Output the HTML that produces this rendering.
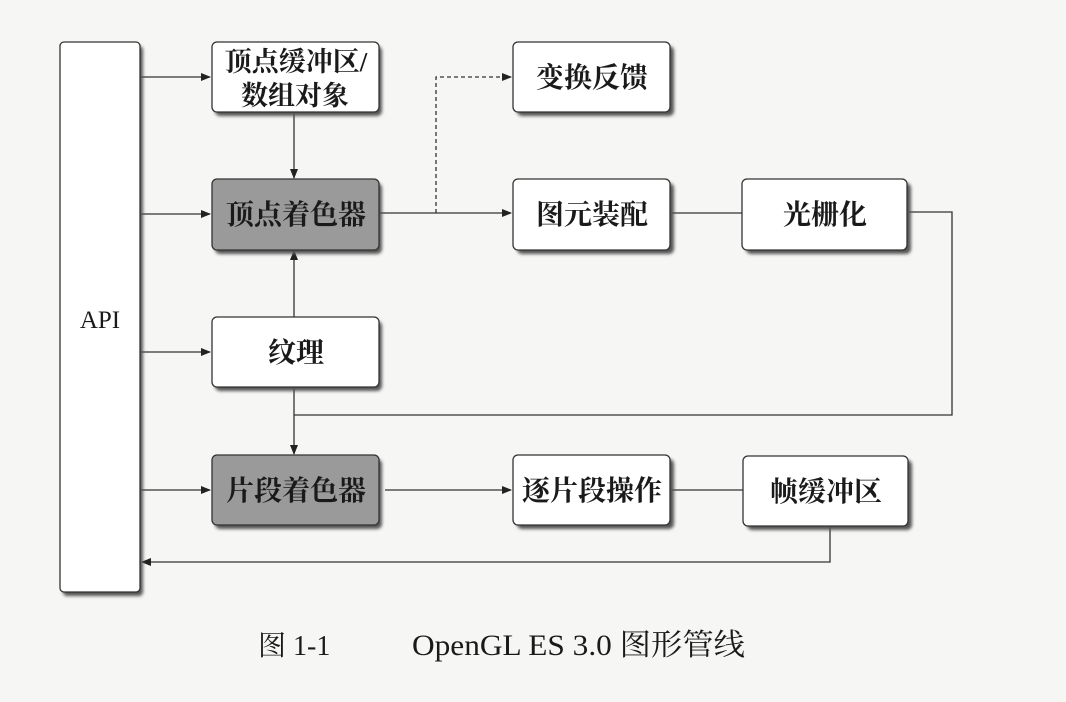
<!DOCTYPE html>
<html><head><meta charset="utf-8"><style>
html,body{margin:0;padding:0;background:#f6f6f4;}
svg{display:block}
text{font-family:"Liberation Serif","Noto Serif CJK SC","Noto Sans CJK SC",serif;fill:#1a1a1a;}
</style></head><body>
<svg width="1066" height="702" viewBox="0 0 1066 702" xmlns="http://www.w3.org/2000/svg">
<defs>
<marker id="a" markerWidth="10" markerHeight="8" refX="9" refY="4" orient="auto" markerUnits="userSpaceOnUse">
<path d="M0,0 L10,4 L0,8 z" fill="#222"/></marker>
<filter id="s" x="-10%" y="-10%" width="130%" height="130%"><feGaussianBlur stdDeviation="1.5"/></filter>
</defs>
<g stroke="#333" stroke-width="1.3" fill="none">
<line x1="140" y1="77" x2="210" y2="77" marker-end="url(#a)"/>
<line x1="140" y1="214" x2="210" y2="214" marker-end="url(#a)"/>
<line x1="140" y1="352" x2="210" y2="352" marker-end="url(#a)"/>
<line x1="140" y1="490" x2="210" y2="490" marker-end="url(#a)"/>
<line x1="294" y1="112" x2="294" y2="178" marker-end="url(#a)"/>
<line x1="294" y1="317" x2="294" y2="251" marker-end="url(#a)"/>
<line x1="294" y1="387" x2="294" y2="454" marker-end="url(#a)"/>
<line x1="377" y1="213" x2="511" y2="213" marker-end="url(#a)"/>
<path d="M436,213 V77 H511" stroke-dasharray="4,3" marker-end="url(#a)"/>
<line x1="670" y1="213" x2="742" y2="213"/>
<path d="M907,212 H952 V415 H294"/>
<line x1="385" y1="490" x2="511" y2="490" marker-end="url(#a)"/>
<line x1="670" y1="490" x2="743" y2="490"/>
<path d="M830,526 V562 H142" marker-end="url(#a)"/>
</g>
<g>
<rect x="63" y="46" width="80" height="550" rx="4" fill="#555" filter="url(#s)"/>
<rect x="60" y="42" width="80" height="550" rx="4" fill="#fff" stroke="#333" stroke-width="1.3"/>
<g fill="#555" filter="url(#s)">
<rect x="215" y="46" width="167" height="70" rx="5"/>
<rect x="215" y="183" width="167" height="71" rx="5"/>
<rect x="215" y="321" width="167" height="70" rx="5"/>
<rect x="215" y="459" width="167" height="70" rx="5"/>
<rect x="517" y="46" width="157" height="70" rx="5"/>
<rect x="517" y="183" width="157" height="71" rx="5"/>
<rect x="746" y="183" width="165" height="71" rx="5"/>
<rect x="517" y="459" width="157" height="70" rx="5"/>
<rect x="747" y="460" width="165" height="70" rx="5"/>
</g>
<g stroke="#333" stroke-width="1.3" fill="#fff">
<rect x="212" y="42" width="167" height="70" rx="5"/>
<rect x="212" y="179" width="167" height="71" rx="5" fill="#9a9a9a"/>
<rect x="212" y="317" width="167" height="70" rx="5"/>
<rect x="212" y="455" width="167" height="70" rx="5" fill="#9a9a9a"/>
<rect x="513" y="42" width="157" height="70" rx="5"/>
<rect x="513" y="179" width="157" height="71" rx="5"/>
<rect x="742" y="179" width="165" height="71" rx="5"/>
<rect x="513" y="455" width="157" height="70" rx="5"/>
<rect x="743" y="456" width="165" height="70" rx="5"/>
</g>
</g>
<g font-size="28" text-anchor="middle" font-weight="bold">
<text x="100" y="328" font-weight="normal" font-size="25">API</text>
<text x="296" y="71" font-size="27">顶点缓冲区/</text>
<text x="295" y="105" font-size="27">数组对象</text>
<text x="296" y="224">顶点着色器</text>
<text x="296" y="362">纹理</text>
<text x="296" y="500">片段着色器</text>
<text x="592" y="87">变换反馈</text>
<text x="592" y="224">图元装配</text>
<text x="825" y="224">光栅化</text>
<text x="592" y="500">逐片段操作</text>
<text x="826" y="501">帧缓冲区</text>
</g>
<text x="258" y="655" font-size="28">图 1-1</text>
<text x="412" y="655" font-size="30" textLength="333" lengthAdjust="spacingAndGlyphs">OpenGL ES 3.0 图形管线</text>
</svg>
</body></html>
